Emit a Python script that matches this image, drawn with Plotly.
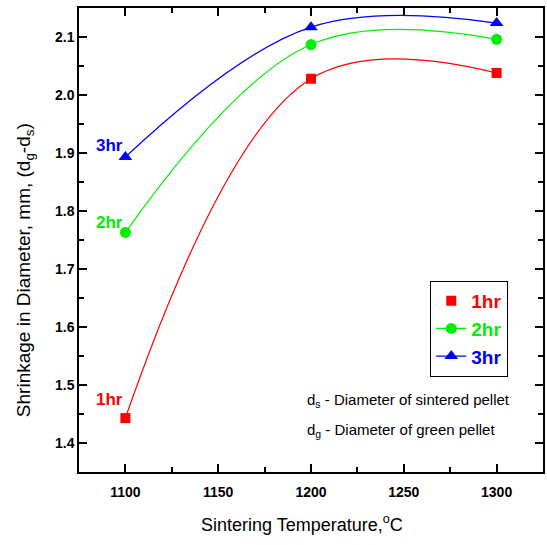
import plotly.graph_objects as go

# ---- data ----
temps = [1100, 1200, 1300]
shrink_1hr = [1.443, 2.028, 2.038]
shrink_2hr = [1.763, 2.087, 2.096]
shrink_3hr = [1.893, 2.117, 2.124]
series_names = ["1hr", "2hr", "3hr"]
x_ticks = [1100, 1150, 1200, 1250, 1300]
y_ticks = [1.4, 1.5, 1.6, 1.7, 1.8, 1.9, 2.0, 2.1]
y_tick_labels = ["1.4", "1.5", "1.6", "1.7", "1.8", "1.9", "2.0", "2.1"]

series = [shrink_1hr, shrink_2hr, shrink_3hr]
colors = ["#FF0000", "#00EE00", "#0000FF"]
symbols = ["square", "circle", "triangle-up"]
msizes = [10, 11, 12]
label_yshift = [19, 10, 12]

FONT = "Liberation Sans, Arial, sans-serif"

fig = go.Figure()

for i, (name, vals) in enumerate(zip(series_names, series)):
    col = colors[i]
    lbl = f"<b><span style='color:{col}'>{name}</span></b>"
    if i == 0:
        fig.add_trace(go.Scatter(x=temps, y=vals, mode="lines", showlegend=False,
                                 line=dict(color=col, width=1.2, shape="spline", smoothing=1.1)))
        fig.add_trace(go.Scatter(x=temps, y=vals, mode="markers", name=lbl,
                                 marker=dict(color=col, symbol=symbols[i], size=msizes[i])))
    else:
        fig.add_trace(go.Scatter(x=temps, y=vals, mode="lines+markers", name=lbl,
                                 line=dict(color=col, width=1.2, shape="spline", smoothing=1.1),
                                 marker=dict(color=col, symbol=symbols[i], size=msizes[i])))
    fig.add_annotation(x=temps[0], y=vals[0], xref="x", yref="y", text=f"<b>{name}</b>",
                       showarrow=False, xanchor="right", yanchor="middle",
                       xshift=0, yshift=label_yshift[i],
                       font=dict(family=FONT, size=17, color=col))

# explanatory text
fig.add_annotation(x=0.487, y=0.155, xref="paper", yref="paper", xanchor="left", yanchor="middle",
                   text="d<sub>s</sub> - Diameter of sintered pellet", showarrow=False,
                   font=dict(family=FONT, size=15, color="black"))
fig.add_annotation(x=0.487, y=0.0905, xref="paper", yref="paper", xanchor="left", yanchor="middle",
                   text="d<sub>g</sub> - Diameter of green pellet", showarrow=False,
                   font=dict(family=FONT, size=15, color="black"))

# axis titles
fig.add_annotation(x=0.481, y=0, xref="paper", yref="paper", xanchor="center", yanchor="middle",
                   yshift=-51, text="Sintering Temperature,<sup>o</sup>C", showarrow=False,
                   font=dict(family=FONT, size=18, color="black"))
fig.add_annotation(x=0, y=0.435, xref="paper", yref="paper", xanchor="center", yanchor="middle",
                   xshift=-54, textangle=-90,
                   text="Shrinkage in Diameter, mm, (d<sub>g</sub>-d<sub>s</sub>)", showarrow=False,
                   font=dict(family=FONT, size=19, color="black"))

axis_common = dict(showgrid=False, zeroline=False, showline=True, linecolor="black", linewidth=1.5,
                   mirror="allticks", ticks="inside", ticklen=8, tickwidth=1.5, tickcolor="black",
                   tickfont=dict(family=FONT, size=14, color="black", weight="bold"))

fig.update_xaxes(range=[1075, 1325], tickvals=x_ticks, ticktext=[str(v) for v in x_ticks],
                 ticklabelstandoff=6,
                 minor=dict(ticks="inside", ticklen=5, tickwidth=1.5, tickcolor="black", dtick=25,
                            tick0=1075, showgrid=False),
                 **axis_common)
fig.update_yaxes(range=[1.35, 2.15], tickvals=y_ticks, ticktext=y_tick_labels,
                 minor=dict(ticks="inside", ticklen=5, tickwidth=1.5, tickcolor="black", dtick=0.05,
                            tick0=1.35, showgrid=False),
                 **axis_common)

fig.update_layout(
    width=547, height=545,
    margin=dict(l=79, r=2, t=8, b=73),
    paper_bgcolor="white", plot_bgcolor="white",
    legend=dict(x=0.757, y=0.412, xanchor="left", yanchor="top",
                bordercolor="black", borderwidth=1, bgcolor="white",
                font=dict(family=FONT, size=19), tracegroupgap=0),
)

fig.write_html("out.html")
